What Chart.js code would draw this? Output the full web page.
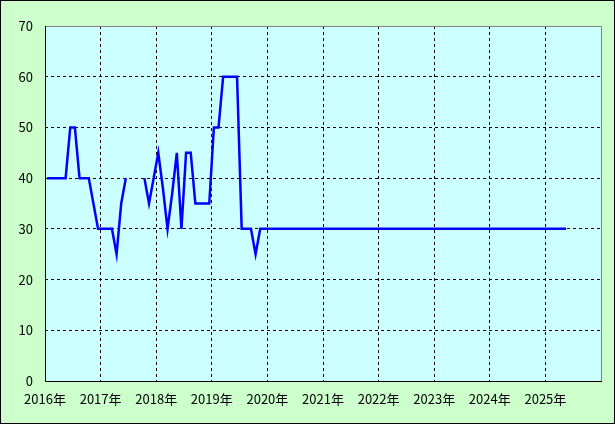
<!DOCTYPE html>
<html>
<head>
<meta charset="utf-8">
<script src="https://cdn.jsdelivr.net/npm/chart.js@4"></script>
<style>
  html, body { margin: 0; padding: 0; background: #ccffcc; }
  #wrap { width: 615px; height: 424px; position: relative; }
</style>
</head>
<body>
<div id="wrap"><canvas id="priceChart" width="615" height="424"></canvas></div>
<script>
// Data (monthly, starting Jan 2016; null = no data)
const startYear = 2016;
const yearTicks = [2016, 2017, 2018, 2019, 2020, 2021, 2022, 2023, 2024, 2025];
const prices = [
    40, 40, 40, 40, 40, 50, 50, 40, 40, 40, 35, 30,
    30, 30, 30, 25, 35, 40, null, null, null, 40, 35, 40,
    45, 38, 30, 37, 45, 30, 45, 45, 35, 35, 35, 35,
    50, 50, 60, 60, 60, 60, 30, 30, 30, 25, 30, 30,
    30, 30, 30, 30, 30, 30, 30, 30, 30, 30, 30, 30,
    30, 30, 30, 30, 30, 30, 30, 30, 30, 30, 30, 30,
    30, 30, 30, 30, 30, 30, 30, 30, 30, 30, 30, 30,
    30, 30, 30, 30, 30, 30, 30, 30, 30, 30, 30, 30,
    30, 30, 30, 30, 30, 30, 30, 30, 30, 30, 30, 30,
    30, 30, 30, 30, 30
];

const points = prices.map((v, i) => ({ x: startYear + (i + 0.45) / 12, y: v }));

// Styling
const colors = {
    page: '#ccffcc',
    plot: '#ccffff',
    line: '#0000ff',
    grid: '#000000',
    text: '#000000'
};

Chart.defaults.font.family = "'Noto Sans CJK JP', 'DejaVu Sans', sans-serif";
Chart.defaults.font.size = 13;
Chart.defaults.color = colors.text;

// Backgrounds and frame
const framePlugin = {
    id: 'frame',
    beforeDraw(chart) {
        const { ctx, chartArea: a } = chart;
        ctx.save();
        ctx.fillStyle = colors.page;
        ctx.fillRect(0, 0, chart.width, chart.height);
        ctx.fillStyle = colors.plot;
        ctx.fillRect(a.left, a.top, a.right - a.left, a.bottom - a.top);
        ctx.restore();
    },
    afterDraw(chart) {
        const { ctx, chartArea: a } = chart;
        ctx.save();
        ctx.lineWidth = 1;
        // top/right grey
        ctx.strokeStyle = '#808080';
        ctx.beginPath();
        ctx.moveTo(a.left, a.top + 0.5);
        ctx.lineTo(a.right + 0.5, a.top + 0.5);
        ctx.lineTo(a.right + 0.5, a.bottom);
        ctx.stroke();
        // left/bottom black
        ctx.strokeStyle = '#000';
        ctx.beginPath();
        ctx.moveTo(a.left + 0.5, a.top);
        ctx.lineTo(a.left + 0.5, a.bottom + 0.5);
        ctx.lineTo(a.right + 1, a.bottom + 0.5);
        ctx.stroke();
        // outer border
        ctx.strokeRect(0.5, 0.5, chart.width - 1, chart.height - 1);
        ctx.restore();
    }
};

new Chart(document.getElementById('priceChart'), {
    type: 'line',
    data: {
        datasets: [{
            data: points,
            borderColor: colors.line,
            borderWidth: 2.5,
            pointRadius: 0,
            tension: 0,
            spanGaps: false
        }]
    },
    options: {
        responsive: false,
        animation: false,
        layout: { padding: { top: 26, right: 14, left: 0, bottom: 0 } },
        plugins: {
            legend: { display: false },
            tooltip: { enabled: false }
        },
        scales: {
            x: {
                type: 'linear',
                min: 2016,
                max: 2026,
                afterFit: s => { s.height = 43; },
                afterBuildTicks: s => { s.ticks = yearTicks.concat([2026]).map(v => ({ value: v })); },
                grid: {
                    color: c => (c.tick && c.tick.value > 2016 && c.tick.value < 2026) ? colors.grid : 'transparent',
                    drawTicks: false,
                    lineWidth: 1
                },
                border: { display: false, dash: [3, 3] },
                ticks: {
                    padding: 10,
                    maxRotation: 0,
                    autoSkip: false,
                    callback: v => yearTicks.includes(v) ? v + '年' : ''
                }
            },
            y: {
                min: 0,
                max: 70,
                afterFit: s => { s.width = 45; },
                grid: {
                    color: c => (c.tick && c.tick.value > 0 && c.tick.value < 70) ? colors.grid : 'transparent',
                    drawTicks: false,
                    lineWidth: 1
                },
                border: { display: false, dash: [3, 3] },
                ticks: { stepSize: 10, padding: 12 }
            }
        }
    },
    plugins: [framePlugin]
});
</script>
</body>
</html>
